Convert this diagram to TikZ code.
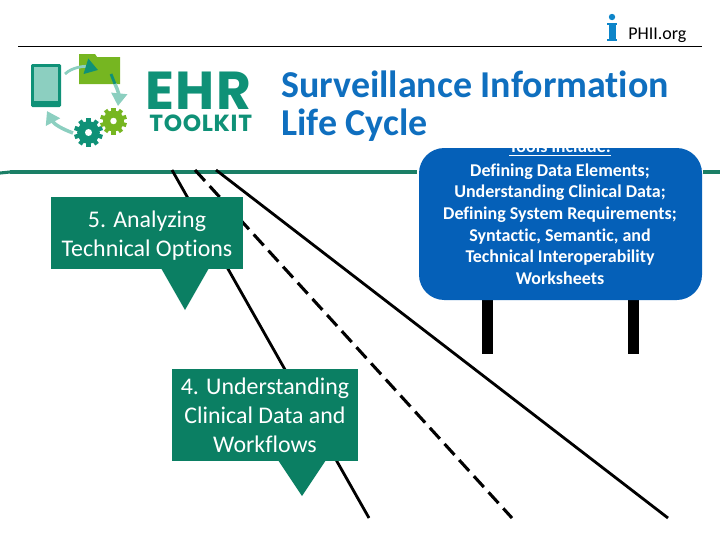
\documentclass[tikz,border=0pt]{standalone}
\usepackage{fontspec}
\setmainfont[Ligatures=NoCommon]{Carlito}
\newfontfamily\logofont[LetterSpace=3]{Poppins}
\usetikzlibrary{arrows.meta}
\definecolor{ehrteal}{HTML}{0F9177}
\definecolor{ehrline}{HTML}{1B7F66}
\definecolor{ehrbox}{HTML}{0B7F63}
\definecolor{ehrlight}{HTML}{8CCFC0}
\definecolor{ehrgreen}{HTML}{76B621}
\definecolor{signblue}{HTML}{0560B8}
\definecolor{titleblue}{HTML}{0F6FBF}
\newcommand{\gearwheel}[4]{% x, y, radius, colour
  \fill[#4] (#1,#2) circle (#3*0.78);
  \foreach \a in {0,36,...,324}
    \fill[#4,rotate around={\a:(#1,#2)}] (#1-#3*0.15,#2) rectangle (#1+#3*0.15,#2-#3);
  \fill[white] (#1,#2) circle (#3*0.24);
}
\begin{document}
\begin{tikzpicture}[x=0.025cm,y=-0.025cm,
    road/.style ={line width=2pt},
    roaddash/.style ={line width=2.2pt, dash pattern=on 10.5pt off 5pt},
    callout/.style ={fill=ehrbox, text=white, align=center, font=\fontsize{17}{20.6}\selectfont, inner sep=0pt},
    sign/.style ={fill=signblue, rounded corners=18pt},
    signtext/.style ={text=white, align=center, font=\fontsize{12.8}{15.35}\selectfont\bfseries},
    post/.style ={line width=8pt},
    cyclearrow/.style ={ehrlight, line width=2.5pt, -{Triangle[length=9pt,width=11pt]}}]
   \useasboundingbox (0,0) rectangle (720,540);

   % header
   \coordinate (ruleA) at (18,46);
   \coordinate (ruleB) at (702,46);
   \draw[line width=0.7pt] (ruleA) to (ruleB);
   \fill[titleblue!85!cyan] (612,17) circle (3.2);
   \fill[titleblue!85!cyan] (609,23) rectangle (616,41);
   \fill[titleblue!85!cyan] (607,23) rectangle (617,25);
   \fill[titleblue!85!cyan] (607,39) rectangle (617,41);
   \node[anchor=west, inner sep=0pt, font=\fontsize{12.8}{13}\selectfont] (phii) at (628,35) {PHII.org};

   % logo
   \fill[ehrteal, rounded corners=1pt] (31,64) rectangle (61,107);
   \fill[ehrlight] (34,67) rectangle (58,101);
   \fill[ehrgreen] (79,54) -- (95,54) -- (97,57) -- (120,57) -- (120,84) -- (79,84) -- cycle;
   \draw[ehrlight, line width=2pt, -{Triangle[length=9pt,width=11pt,color=ehrteal]}] (65,74) .. controls (72,67) and (85,66) .. (98,70);
   \draw[ehrteal, line width=2pt] (111,74) -- (115,84);
   \draw[cyclearrow] (115,84) .. controls (118,90) and (119,96) .. (118,106);
   \draw[cyclearrow] (73,133) .. controls (62,129) and (54,124) .. (47,111);
   \gearwheel{88.5}{132.5}{14.5}{ehrteal}
   \gearwheel{113.5}{121}{13.5}{ehrgreen}
   \node[anchor=west, inner sep=0pt, text=ehrteal, font=\logofont\fontsize{38}{38}\selectfont\bfseries] (ehr) at (145,91) {EHR};
   \node[anchor=west, inner sep=0pt, text=ehrteal, font=\logofont\fontsize{16.6}{18}\selectfont\bfseries] (toolkit) at (149,123) {TOOLKIT};

   % title
   \node[anchor=north west, inner sep=0pt, text=titleblue, align=left, font=\fontsize{27}{27}\selectfont\bfseries] (title) at (281,71) {Surveillance Information\\Life Cycle};

   % green rule
   \coordinate (greenA) at (0,173);
   \coordinate (greenB) at (10,172);
   \coordinate (greenC) at (720,172);
   \draw[ehrline, line width=2.2pt] (greenA) to (greenB);
   \draw[ehrline, line width=2.2pt] (greenB) to (greenC);

   % road
   \coordinate (leftA) at (172,170);
   \coordinate (leftB) at (369,518);
   \coordinate (midA) at (195,170);
   \coordinate (midB) at (512,518);
   \coordinate (rightA) at (216,170);
   \coordinate (rightB) at (668,518);
   \draw[road] (leftA) to (leftB);
   \draw[roaddash] (midA) to (midB);
   \draw[road] (rightA) to (rightB);

   % signposts
   \coordinate (postA) at (487.5,300);
   \coordinate (postB) at (487.5,354);
   \coordinate (postC) at (633.5,300);
   \coordinate (postD) at (633.5,354);
   \draw[post] (postA) to (postB);
   \draw[post] (postC) to (postD);

   % sign
   \fill[white] (417,148) rectangle (703,300);
   \fill[sign] (419,148) rectangle (702,300);
   \begin{scope}
     \clip (419,148) rectangle (702,300);
     \node[signtext] (tools) at (560,148) {\underline{Tools include:}};
   \end{scope}
   \node[signtext] (signlist) at (560,224) {Defining Data Elements;\\Understanding Clinical Data;\\Defining System Requirements;\\Syntactic, Semantic, and\\Technical Interoperability\\Worksheets};

   % callouts
   \fill[ehrbox] (161,268) -- (209,268) -- (185,310) -- cycle;
   \node[callout, minimum width=192*0.025cm, minimum height=72*0.025cm] (five) at (147,233) {\rule{0pt}{15.5pt}5. Analyzing\\Technical Options};
   \fill[ehrbox] (278,460) -- (326,460) -- (302,496) -- cycle;
   \node[callout, minimum width=186*0.025cm, minimum height=92*0.025cm] (four) at (265,415) {4. Understanding\\Clinical Data and\\Workflows};
\end{tikzpicture}
\end{document}
